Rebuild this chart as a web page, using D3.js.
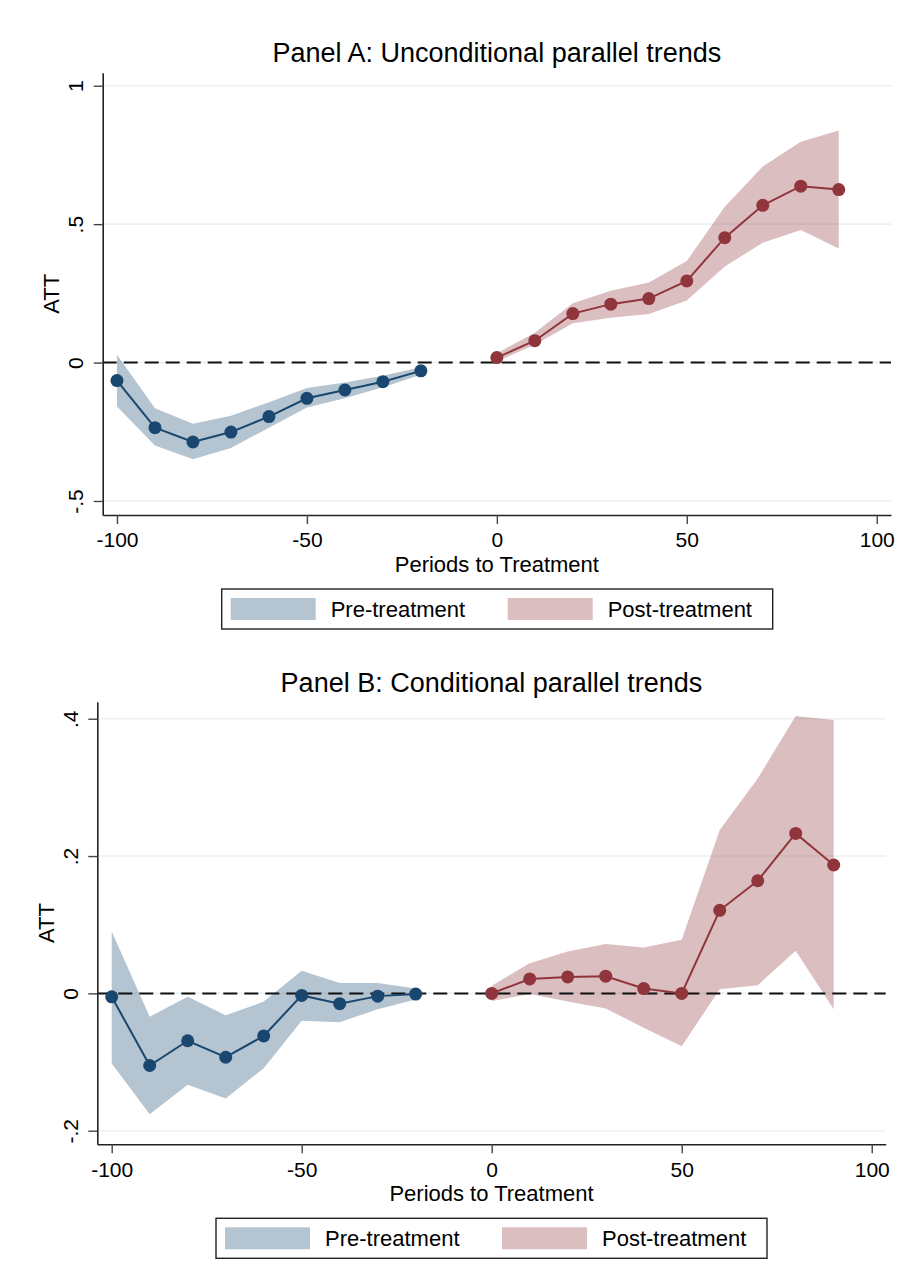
<!DOCTYPE html>
<html>
<head>
<meta charset="utf-8">
<script src="https://cdn.jsdelivr.net/npm/d3@7"></script>
<style>
  html, body { margin: 0; padding: 0; background: #fff; }
  svg { display: block; font-family: "Liberation Sans", Arial, sans-serif; }
</style>
</head>
<body>
<svg id="chart" width="913" height="1282"></svg>
<script>
// ---------------- DATA ----------------
const periodsPre  = [-100, -90, -80, -70, -60, -50, -40, -30, -20];
const periodsPost = [0, 10, 20, 30, 40, 50, 60, 70, 80, 90];
const xTicks = [-100, -50, 0, 50, 100];
const xTickLabels = ["-100", "-50", "0", "50", "100"];

// Panel A: Unconditional parallel trends
const attPreA   = [-0.065, -0.235, -0.287, -0.251, -0.195, -0.129, -0.099, -0.069, -0.030];
const ciLoPreA  = [-0.159, -0.300, -0.349, -0.309, -0.235, -0.162, -0.129, -0.089, -0.044];
const ciHiPreA  = [ 0.028, -0.165, -0.221, -0.192, -0.143, -0.092, -0.072, -0.048, -0.017];
const attPostA  = [0.018, 0.079, 0.177, 0.211, 0.231, 0.295, 0.451, 0.568, 0.637, 0.625];
const ciLoPostA = [0.004, 0.064, 0.142, 0.162, 0.175, 0.224, 0.347, 0.433, 0.479, 0.412];
const ciHiPostA = [0.034, 0.108, 0.214, 0.259, 0.289, 0.367, 0.563, 0.708, 0.798, 0.838];
const yTicksA = [-0.5, 0, 0.5, 1];
const yTickLabelsA = ["-.5", "0", ".5", "1"];

// Panel B: Conditional parallel trends
const attPreB   = [-0.005, -0.105, -0.069, -0.093, -0.062, -0.003, -0.015, -0.004, -0.001];
const ciLoPreB  = [-0.102, -0.176, -0.133, -0.153, -0.109, -0.040, -0.042, -0.023, -0.009];
const ciHiPreB  = [ 0.090, -0.034, -0.005, -0.032, -0.012,  0.033,  0.015,  0.015,  0.007];
const attPostB  = [ 0.000, 0.021, 0.024, 0.025, 0.007, 0.000, 0.121, 0.164, 0.233, 0.187];
const ciLoPostB = [-0.011, -0.001, -0.012, -0.022, -0.050, -0.077, 0.006, 0.012, 0.062, -0.023];
const ciHiPostB = [ 0.011, 0.044, 0.061, 0.072, 0.067, 0.078, 0.238, 0.313, 0.404, 0.398];
const yTicksB = [-0.2, 0, 0.2, 0.4];
const yTickLabelsB = ["-.2", "0", ".2", ".4"];

const titles = ["Panel A: Unconditional parallel trends", "Panel B: Conditional parallel trends"];
const xTitle = "Periods to Treatment";
const yTitle = "ATT";
const legendLabels = ["Pre-treatment", "Post-treatment"];

// ---------------- STYLE ----------------
const NAVY = "#1a476f";
const MAROON = "#90353b";
const FILL_OPACITY = 0.32;
const GRID = "#eaf2f3";
const FONT = '"Liberation Sans", Arial, sans-serif';

const svg = d3.select("#chart");

function drawPanel(cfg) {
  const g = svg.append("g");
  const x = d3.scaleLinear().domain(cfg.xDom).range([cfg.left, cfg.right]);
  const y = d3.scaleLinear().domain(cfg.yDom).range([cfg.bottom, cfg.top]);

  // gridlines
  g.append("g").selectAll("line").data(cfg.yTicks).join("line")
    .attr("x1", cfg.left).attr("x2", cfg.right)
    .attr("y1", d => y(d)).attr("y2", d => y(d))
    .attr("stroke", GRID).attr("stroke-width", 1.6);

  const pre = periodsPre.map((p, i) => ({ p, v: cfg.attPre[i], lo: cfg.ciLoPre[i], hi: cfg.ciHiPre[i] }));
  const post = periodsPost.map((p, i) => ({ p, v: cfg.attPost[i], lo: cfg.ciLoPost[i], hi: cfg.ciHiPost[i] }));

  const area = d3.area().x(d => x(d.p)).y0(d => y(d.lo)).y1(d => y(d.hi));
  g.append("path").datum(pre).attr("d", area).attr("fill", NAVY).attr("fill-opacity", FILL_OPACITY);
  g.append("path").datum(post).attr("d", area).attr("fill", MAROON).attr("fill-opacity", FILL_OPACITY);

  // zero reference line
  g.append("line")
    .attr("x1", cfg.left).attr("x2", cfg.right)
    .attr("y1", y(0)).attr("y2", y(0))
    .attr("stroke", "#111").attr("stroke-width", 2)
    .attr("stroke-dasharray", "14,7");

  const line = d3.line().x(d => x(d.p)).y(d => y(d.v));
  g.append("path").datum(pre).attr("d", line).attr("fill", "none").attr("stroke", NAVY).attr("stroke-width", 2);
  g.append("path").datum(post).attr("d", line).attr("fill", "none").attr("stroke", MAROON).attr("stroke-width", 2);

  g.append("g").selectAll("circle").data(pre).join("circle")
    .attr("cx", d => x(d.p)).attr("cy", d => y(d.v)).attr("r", 6.5).attr("fill", NAVY);
  g.append("g").selectAll("circle").data(post).join("circle")
    .attr("cx", d => x(d.p)).attr("cy", d => y(d.v)).attr("r", 6.5).attr("fill", MAROON);

  // axes
  const xAxis = d3.axisBottom(x).tickValues(xTicks).tickSize(9).tickSizeOuter(0).tickPadding(8.5)
    .tickFormat((d, i) => xTickLabels[i]);
  const gx = g.append("g").attr("transform", `translate(0,${cfg.bottom})`).call(xAxis);
  gx.select(".domain").attr("stroke", "#222").attr("stroke-width", 1.6);
  gx.selectAll(".tick line").attr("stroke", "#444").attr("stroke-width", 1.4);
  gx.selectAll(".tick text").attr("font-size", 21).attr("fill", "#000")
    .attr("font-family", FONT).attr("dy", "0.71em");

  const yAxis = d3.axisLeft(y).tickValues(cfg.yTicks).tickSize(9).tickSizeOuter(0)
    .tickFormat((d, i) => cfg.yTickLabels[i]);
  const gy = g.append("g").attr("transform", `translate(${cfg.left},0)`).call(yAxis);
  gy.select(".domain").attr("stroke", "#222").attr("stroke-width", 1.6);
  gy.selectAll(".tick line").attr("stroke", "#444").attr("stroke-width", 1.4);
  gy.selectAll(".tick text").attr("font-size", 21).attr("fill", "#000")
    .attr("font-family", FONT)
    .attr("x", null).attr("dy", null)
    .attr("text-anchor", "middle")
    .attr("transform", "translate(-19.5,0) rotate(-90)");

  // titles
  svg.append("text").attr("x", (cfg.left + cfg.right) / 2).attr("y", cfg.titleY)
    .attr("text-anchor", "middle").attr("font-size", 27).attr("fill", "#000").text(cfg.title);
  svg.append("text").attr("x", (cfg.left + cfg.right) / 2).attr("y", cfg.bottom + 57)
    .attr("text-anchor", "middle").attr("font-size", 22).attr("fill", "#000").text(xTitle);
  svg.append("text")
    .attr("transform", `translate(${cfg.left - 43.5},${(cfg.top + cfg.bottom) / 2}) rotate(-90)`)
    .attr("text-anchor", "middle").attr("font-size", 22).attr("fill", "#000").text(yTitle);

  // legend
  const lg = svg.append("g").attr("transform", `translate(${cfg.legendX},${cfg.bottom + 74})`);
  lg.append("rect").attr("x", 0).attr("y", 0).attr("width", 551).attr("height", 40)
    .attr("fill", "#fff").attr("stroke", "#222").attr("stroke-width", 1.4);
  const items = [{ c: NAVY, t: legendLabels[0], off: 9 }, { c: MAROON, t: legendLabels[1], off: 286 }];
  items.forEach(it => {
    lg.append("rect").attr("x", it.off).attr("y", 9).attr("width", 85).attr("height", 22)
      .attr("fill", it.c).attr("fill-opacity", FILL_OPACITY);
    lg.append("text").attr("x", it.off + 100).attr("y", 28).attr("font-size", 22).attr("fill", "#000").text(it.t);
  });
}

drawPanel({
  left: 102.7, right: 891, top: 72.7, bottom: 515,
  xDom: [-103.76, 103.76], yDom: [-0.5506, 1.047],
  attPre: attPreA, ciLoPre: ciLoPreA, ciHiPre: ciHiPreA,
  attPost: attPostA, ciLoPost: ciLoPostA, ciHiPost: ciHiPostA,
  yTicks: yTicksA, yTickLabels: yTickLabelsA,
  title: titles[0], titleY: 61.5, legendX: 221.7
});

drawPanel({
  left: 97.3, right: 885.7, top: 701.7, bottom: 1144.3,
  xDom: [-103.79, 103.68], yDom: [-0.2198, 0.4248],
  attPre: attPreB, ciLoPre: ciLoPreB, ciHiPre: ciHiPreB,
  attPost: attPostB, ciLoPost: ciLoPostB, ciHiPost: ciHiPostB,
  yTicks: yTicksB, yTickLabels: yTickLabelsB,
  title: titles[1], titleY: 692, legendX: 216
});
</script>
</body>
</html>
